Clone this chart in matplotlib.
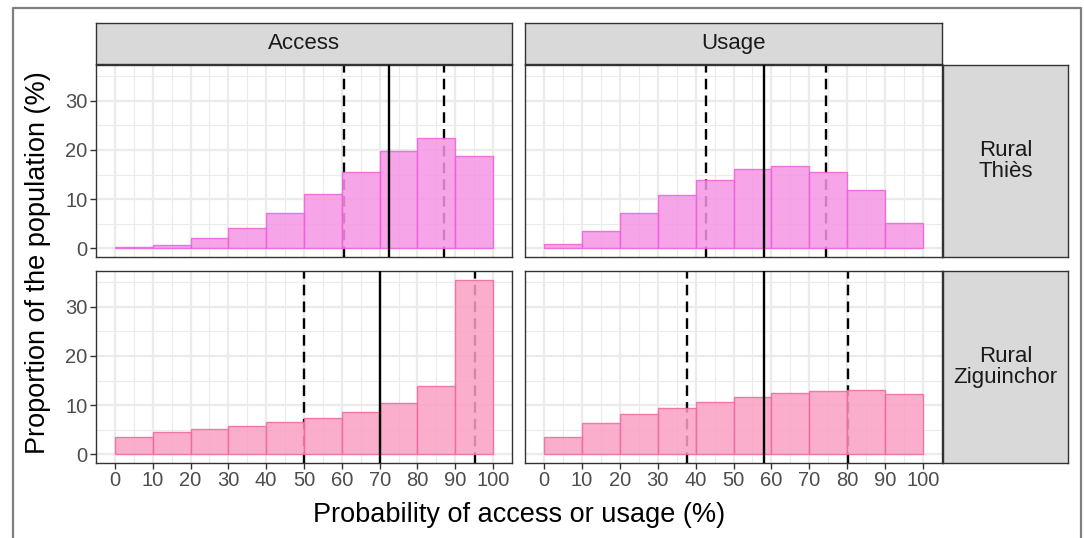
import matplotlib
matplotlib.use("Agg")
import matplotlib.pyplot as plt
from matplotlib.lines import Line2D
import numpy as np

plt.rcParams['font.family'] = ['Liberation Sans', 'DejaVu Sans']

# Histogram bins (10-point wide, 0..100)
bin_left = [0, 10, 20, 30, 40, 50, 60, 70, 80, 90]
bin_width = 10

columns = ["Access", "Usage"]
rows = ["Rural\nThiès", "Rural\nZiguinchor"]

# Proportion of the population (%) per bin
access_thies = [0.2, 0.7, 2.0, 4.1, 7.2, 11.1, 15.5, 19.7, 22.5, 18.7]
usage_thies = [0.9, 3.5, 7.1, 10.8, 13.9, 16.1, 16.8, 15.6, 11.9, 5.1]
access_zig = [3.6, 4.5, 5.1, 5.7, 6.5, 7.3, 8.5, 10.4, 13.8, 35.5]
usage_zig = [3.6, 6.3, 8.1, 9.5, 10.7, 11.6, 12.4, 12.9, 13.1, 12.2]

# Reference lines: lower quartile, median, upper quartile
q_access_thies = [60.6, 72.4, 87.1]
q_usage_thies = [42.7, 58.1, 74.5]
q_access_zig = [50.1, 70.1, 95.2]
q_usage_zig = [37.7, 58.1, 80.2]

panel_values = [[access_thies, usage_thies], [access_zig, usage_zig]]
panel_lines = [[q_access_thies, q_usage_thies], [q_access_zig, q_usage_zig]]
row_fill = ["#F596E4", "#FAA0C4"]
row_edge = ["#EE5FDC", "#F0679F"]

W, H = 1084, 538
fig = plt.figure(figsize=(W / 100, H / 100), dpi=100)
fig.patch.set_facecolor("white")

# outer frame (left, top, right edges)
fx0, fx1, fy0 = 13 / W, 1081 / W, 1 - 8 / H
fig.add_artist(Line2D([fx0, fx0, fx1, fx1], [0, fy0, fy0, 0],
                      transform=fig.transFigure, color="#7F7F7F",
                      linewidth=1.6))


def px_axes(x0, y0, x1, y1):
    return fig.add_axes([x0 / W, 1 - y1 / H, (x1 - x0) / W, (y1 - y0) / H])


col_x = [(96, 512), (525, 942)]
row_y = [(65, 257), (271, 463)]

all_vals = np.concatenate([np.array(v) for r in panel_values for v in r])
ymax = all_vals.max()
ylim = (-0.05 * ymax, ymax * 1.05)

grey20 = "#333333"
grid_c = "#EBEBEB"
tick_fs = 14.5
strip_fs = 16

for r in range(2):
    for c in range(2):
        ax = px_axes(col_x[c][0], row_y[r][0], col_x[c][1], row_y[r][1])
        vals = panel_values[r][c]
        ax.bar(bin_left, vals, width=bin_width, align="edge",
               color=row_fill[r], edgecolor=row_edge[r], linewidth=1.0,
               alpha=0.85, zorder=3)
        lo, med, hi = panel_lines[r][c]
        for q in (lo, hi):
            ax.axvline(q, color="black", linewidth=1.7, linestyle=(0, (4.5, 2.6)),
                       zorder=2)
        ax.axvline(med, color="black", linewidth=1.7, zorder=4)

        ax.set_xlim(-5, 105)
        ax.set_ylim(*ylim)
        ax.set_xticks(np.arange(0, 101, 10))
        ax.set_xticks(np.arange(5, 100, 10), minor=True)
        ax.set_yticks([0, 10, 20, 30])
        ax.set_yticks([5, 15, 25, 35], minor=True)
        ax.grid(which="major", color=grid_c, linewidth=1.6, zorder=0)
        ax.grid(which="minor", color=grid_c, linewidth=0.8, zorder=0)
        ax.set_axisbelow(True)
        for s in ax.spines.values():
            s.set_color(grey20)
            s.set_linewidth(1.0)
        ax.tick_params(which="minor", length=0)
        ax.tick_params(which="major", length=4, width=1.0, color=grey20,
                       labelcolor="#4D4D4D", labelsize=tick_fs, pad=2)
        if c == 1:
            ax.tick_params(axis="y", labelleft=False, length=0)
        if r == 0:
            ax.tick_params(axis="x", labelbottom=False, length=0)

        # column strip
        if r == 0:
            sax = px_axes(col_x[c][0], 23, col_x[c][1], 64)
            sax.set_facecolor("#D9D9D9")
            sax.set_xticks([]); sax.set_yticks([])
            for s in sax.spines.values():
                s.set_color(grey20); s.set_linewidth(1.0)
            sax.text(0.5, 0.5, columns[c], ha="center", va="center",
                     fontsize=strip_fs, color="#1A1A1A", transform=sax.transAxes)
    # row strip
    rax = px_axes(943, row_y[r][0], 1068, row_y[r][1])
    rax.set_facecolor("#D9D9D9")
    rax.set_xticks([]); rax.set_yticks([])
    for s in rax.spines.values():
        s.set_color(grey20); s.set_linewidth(1.0)
    rax.text(0.5, 0.5, rows[r], ha="center", va="center", fontsize=strip_fs,
             color="#1A1A1A", linespacing=1.0, transform=rax.transAxes)

fig.text(519 / W, 1 - 515 / H, "Probability of access or usage (%)",
         ha="center", va="center", fontsize=19.5, color="black")
fig.text(38 / W, 1 - 263 / H, "Proportion of the population (%)",
         ha="center", va="center", rotation=90, fontsize=19.5, color="black")

fig.savefig("out.png", dpi=100, facecolor="white")
